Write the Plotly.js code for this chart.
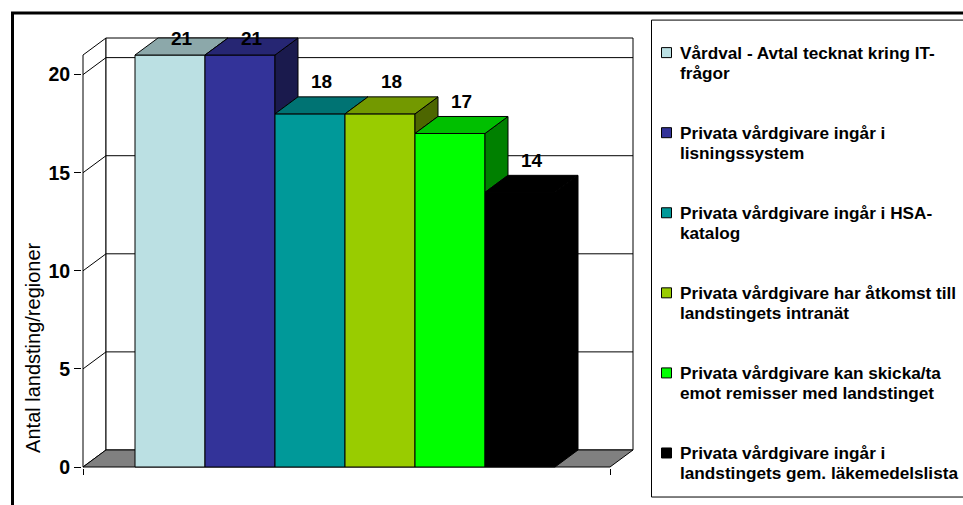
<!DOCTYPE html>
<html>
<head>
<meta charset="utf-8">
<script src="https://cdn.plot.ly/plotly-3.0.1.min.js"></script>
<style>html,body{margin:0;padding:0;background:#fff;}#chart{width:963px;height:505px;}</style>
</head>
<body>
<div id="chart"></div>
<script>
// ---- data ----
const categories = [
  'Vårdval - Avtal tecknat kring IT-<br>frågor',
  'Privata vårdgivare ingår i<br>lisningssystem',
  'Privata vårdgivare ingår i HSA-<br>katalog',
  'Privata vårdgivare har åtkomst till<br>landstingets intranät',
  'Privata vårdgivare kan skicka/ta<br>emot remisser med landstinget',
  'Privata vårdgivare ingår i<br>landstingets gem. läkemedelslista'
];
const values = [21, 21, 18, 18, 17, 14];
const colors = ['#BBE0E3', '#333399', '#009999', '#99CC00', '#00FF00', '#000000'];
const yTicks = [0, 5, 10, 15, 20];
const yAxisTitle = 'Antal landsting/regioner';
const yWallTop = 21;

// ---- geometry (layout) ----
const FONT = 'Arial, "Liberation Sans", sans-serif';
const PXX = 70, PXY = 19.6;        // px per x unit (one bar) and per y unit
const DXU = 23 / PXX, DYU = 17 / PXY; // 3D depth offset in data units
const xLo = -0.5 - 52 / PXX;
const xFr = values.length - 0.5 + 55 / PXX;
const xBk = xFr + DXU;
const pad = 1;
const L = 83 - pad;
const B = 467 + pad;
const xRange = [xLo - pad / PXX, xBk + pad / PXX];
const yRange = [-pad / PXY, yWallTop + DYU + pad / PXY];
const plotW = (xRange[1] - xRange[0]) * PXX;
const plotH = (yRange[1] - yRange[0]) * PXY;
const W = 963, H = 505;
const px2x = p => (p - L) / plotW;
const py2y = p => (B - p) / plotH;

function shade(hex, f) {
  const n = parseInt(hex.slice(1), 16);
  const r = Math.round(((n >> 16) & 255) * f), g = Math.round(((n >> 8) & 255) * f), b = Math.round((n & 255) * f);
  return 'rgb(' + r + ',' + g + ',' + b + ')';
}

const traces = [];
// front faces as bars
values.forEach((v, i) => {
  traces.push({
    type: 'bar', x: [i], y: [v], width: [1], name: categories[i],
    marker: {color: colors[i], line: {color: '#000', width: 1}},
    showlegend: false, hoverinfo: 'skip'
  });
});
// side and top faces
values.forEach((v, i) => {
  const next = i + 1 < values.length ? values[i + 1] : 0;
  const b = Math.min(next, v);
  const r = i + 0.5, l = i - 0.5;
  traces.push({
    type: 'scatter', mode: 'lines', fill: 'toself',
    x: [r, r + DXU, r + DXU, r, r], y: [v, v + DYU, b + DYU, b, v],
    fillcolor: shade(colors[i], 0.5), line: {color: '#000', width: 1},
    showlegend: false, hoverinfo: 'skip'
  });
  traces.push({
    type: 'scatter', mode: 'lines', fill: 'toself',
    x: [l, l + DXU, r + DXU, r, l], y: [v, v + DYU, v + DYU, v, v],
    fillcolor: shade(colors[i], 0.75), line: {color: '#000', width: 1},
    showlegend: false, hoverinfo: 'skip'
  });
});

const shapes = [];
// side wall, back wall, floor
shapes.push({type: 'path', xref: 'x', yref: 'y', layer: 'below',
  path: `M${xLo},0 L${xLo},${yWallTop} L${xLo + DXU},${yWallTop + DYU} L${xLo + DXU},${DYU} Z`,
  fillcolor: '#fff', line: {color: '#000', width: 1}});
shapes.push({type: 'path', xref: 'x', yref: 'y', layer: 'below',
  path: `M${xLo + DXU},${DYU} L${xLo + DXU},${yWallTop + DYU} L${xBk},${yWallTop + DYU} L${xBk},${DYU} Z`,
  fillcolor: '#fff', line: {color: '#000', width: 1}});
yTicks.filter(t => t > 0).forEach(t => {
  shapes.push({type: 'path', xref: 'x', yref: 'y', layer: 'below',
    path: `M${xLo},${t} L${xLo + DXU},${t + DYU} L${xBk},${t + DYU}`,
    line: {color: '#000', width: 1}});
});
shapes.push({type: 'path', xref: 'x', yref: 'y', layer: 'below',
  path: `M${xLo},0 L${xFr},0 L${xBk},${DYU} L${xLo + DXU},${DYU} Z`,
  fillcolor: '#808080', line: {color: '#000', width: 1}});

// outer frame
shapes.push({type: 'rect', xref: 'paper', yref: 'paper',
  x0: px2x(12.5), x1: px2x(1100), y0: py2y(1000), y1: py2y(13.5),
  line: {color: '#000', width: 3}, fillcolor: 'rgba(0,0,0,0)'});
// legend box
shapes.push({type: 'rect', xref: 'paper', yref: 'paper',
  x0: px2x(651.5), x1: px2x(1100), y0: py2y(497), y1: py2y(20.5),
  line: {color: '#000', width: 1}, fillcolor: 'rgba(0,0,0,0)'});

const annotations = [];
// data labels
const labelMax = yRange[1] - 1 / PXY;
values.forEach((v, i) => {
  annotations.push({
    xref: 'x', yref: 'y', x: i + DXU / 2, y: Math.min(v + DYU + 15 / PXY, labelMax),
    xanchor: 'center', yanchor: 'middle', showarrow: false, text: String(v),
    font: {family: FONT, size: 19, color: '#000', weight: 700}
  });
});
// legend entries
categories.forEach((c, i) => {
  const cy = 53 + 80 * i;
  shapes.push({type: 'rect', xref: 'paper', yref: 'paper',
    x0: px2x(661.5), x1: px2x(671.5), y0: py2y(cy + 5), y1: py2y(cy - 5),
    fillcolor: colors[i], line: {color: '#000', width: 1}});
  c.split('<br>').forEach((line, j) => {
    annotations.push({
      xref: 'paper', yref: 'paper', x: px2x(678), y: py2y(cy + 20 * j),
      xanchor: 'left', yanchor: 'middle', showarrow: false, text: line,
      font: {family: FONT, size: 17.2, color: '#000', weight: 700}
    });
  });
});
// y axis title
annotations.push({
  xref: 'paper', yref: 'paper', x: px2x(33), y: py2y(348),
  xanchor: 'center', yanchor: 'middle', textangle: -90, showarrow: false,
  text: yAxisTitle, font: {family: FONT, size: 20, color: '#000'}
});

const layout = {
  width: W, height: H,
  margin: {l: L, r: W - L - plotW, t: B - plotH, b: H - B, pad: 0},
  paper_bgcolor: '#fff', plot_bgcolor: '#fff',
  barmode: 'overlay', showlegend: false,
  xaxis: {range: xRange, tickvals: [xLo, xFr], ticktext: ['', ''], showticklabels: false,
    ticks: 'outside', ticklen: 6, tickcolor: '#000', tickwidth: 1,
    showgrid: false, zeroline: false, showline: false, fixedrange: true},
  yaxis: {range: yRange, tickvals: yTicks, ticks: 'outside', ticklen: 7, tickcolor: '#000', tickwidth: 1,
    tickfont: {family: FONT, size: 19.5, color: '#000', weight: 700},
    showgrid: false, zeroline: false, showline: false, fixedrange: true},
  shapes: shapes, annotations: annotations,
  font: {family: FONT}
};

Plotly.newPlot('chart', traces, layout, {displayModeBar: false, staticPlot: true});
</script>
</body>
</html>
